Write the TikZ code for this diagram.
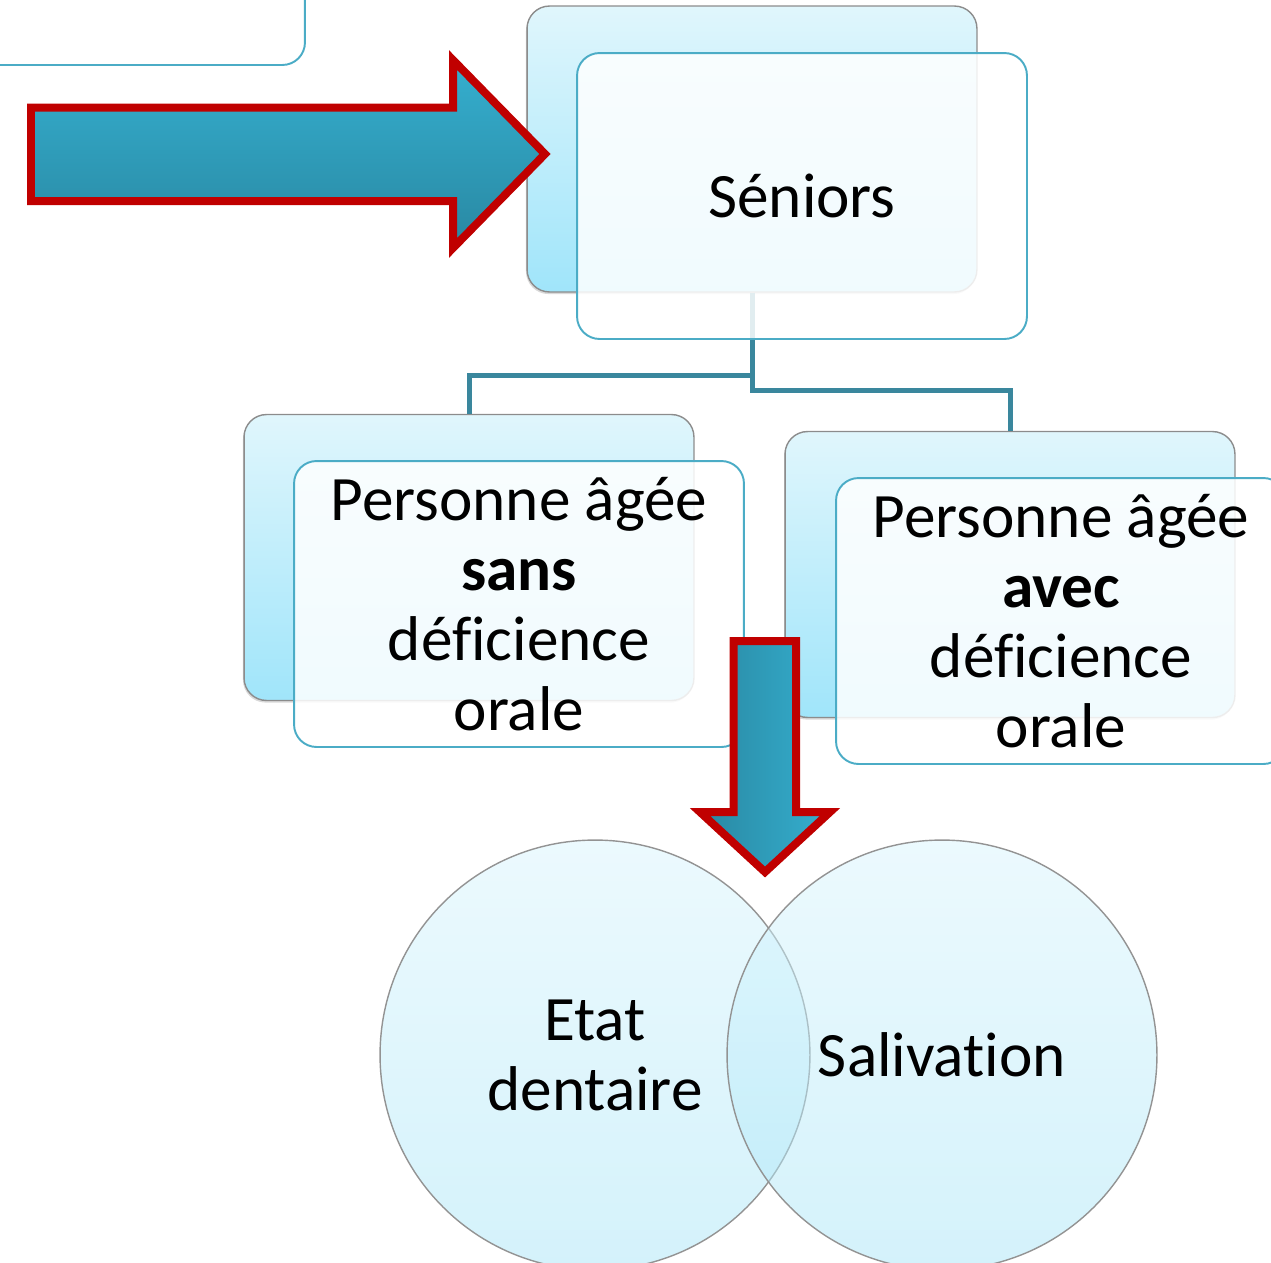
\documentclass[tikz,border=0pt]{standalone}
\usepackage{fontspec}
\setmainfont{Carlito}[Ligatures={TeX,NoCommon}]
\usetikzlibrary{shadows}

\definecolor{boxedge}{RGB}{75,172,198}
\definecolor{backtop}{RGB}{224,246,252}
\definecolor{backbot}{RGB}{160,229,250}
\definecolor{linkcol}{RGB}{58,135,157}
\definecolor{arrowred}{RGB}{192,0,0}
\definecolor{arrowlight}{RGB}{53,175,207}
\definecolor{arrowdark}{RGB}{41,136,162}
\definecolor{blobtop}{RGB}{217,245,253}
\definecolor{blobbot}{RGB}{169,229,247}

\begin{document}
\begin{tikzpicture}[
    x=0.02cm, y=-0.02cm,
    backbox/.style={draw=gray!90, line width=0.8pt, rounded corners=0.45cm, minimum width=9cm, minimum height=5.72cm, top color=backtop, bottom color=backbot, drop shadow={opacity=0.3, shadow xshift=-0.6pt, shadow yshift=-1.2pt}},
    frontbox/.style={draw=boxedge, line width=1.1pt, rounded corners=0.45cm, minimum width=9cm, minimum height=5.72cm, fill=white, fill opacity=0.85, text opacity=1, align=center, font=\fontsize{36}{39.8}\selectfont},
    link/.style={draw=linkcol, line width=0.1cm},
    blockarrow/.style={draw=arrowred, line width=0.16cm, line join=miter, drop shadow={opacity=0.35, shadow xshift=1pt, shadow yshift=-2pt}},
    blob/.style={circle, draw=gray!85, line width=0.8pt, minimum size=8.6cm, inner sep=0pt, top color=blobtop, bottom color=blobbot, fill opacity=0.5, text opacity=1, align=center, font=\fontsize{36}{39.8}\selectfont},
]
\clip (0,0) rectangle (1271,1262);

% box cut off at the top left
\node[frontbox] (corner) at (80,-78) {};

% back layer of the tree
\node[backbox] (seniorsback) at (752,149) {};
\node[backbox] (sansback) at (469,557.5) {};
\node[backbox] (avecback) at (1010,574.5) {};

\draw[link] (seniorsback.south) -- ++(0,83) -| (sansback.north);
\draw[link] (seniorsback.south) -- ++(0,98) -| (avecback.north);

% front layer with the texts
\node[frontbox] (seniors) at (802,196) {Séniors};
\node[frontbox] (sans) at (519,604) {Personne âgée\\ \textbf{sans}\\ déficience\\ orale};
\node[frontbox] (avec) at (1061,621) {Personne âgée\\ \textbf{avec}\\ déficience\\ orale};

% block arrows
\draw[blockarrow, top color=arrowlight, bottom color=arrowdark]
    (31,107.5) -- (453,107.5) -- (453,60) -- (545,154) -- (453,248) -- (453,201) -- (31,201) -- cycle;

\node[blob] (etat) at (595,1055) {Etat\\dentaire};
\node[blob] (saliv) at (942,1055) {Salivation};

\draw[blockarrow, left color=arrowdark, right color=arrowlight]
    (733.5,641) -- (796,641) -- (796,812) -- (830,812) -- (765,872) -- (700,812) -- (733.5,812) -- cycle;
\end{tikzpicture}
\end{document}
